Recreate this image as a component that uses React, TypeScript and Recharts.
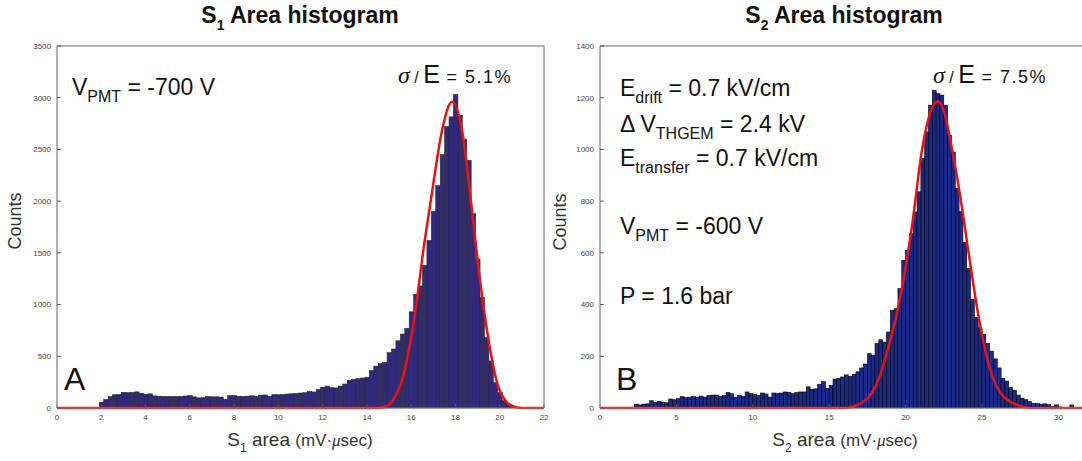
import React from "react";
import { ComposedChart, Bar, Line, XAxis, YAxis } from "recharts";

// ---------- S1 panel data ----------
const s1Centers = [
  2.0, 2.2, 2.4, 2.6, 2.8, 3.0, 3.2, 3.4, 3.6, 3.8,
  4.0, 4.2, 4.4, 4.6, 4.8, 5.0, 5.2, 5.4, 5.6, 5.8,
  6.0, 6.2, 6.4, 6.6, 6.8, 7.0, 7.2, 7.4, 7.6, 7.8,
  8.0, 8.2, 8.4, 8.6, 8.8, 9.0, 9.2, 9.4, 9.6, 9.8,
  10.0, 10.2, 10.4, 10.6, 10.8, 11.0, 11.2, 11.4, 11.6, 11.8,
  12.0, 12.2, 12.4, 12.6, 12.8, 13.0, 13.2, 13.4, 13.6, 13.8,
  14.0, 14.2, 14.4, 14.6, 14.8, 15.0, 15.2, 15.4, 15.6, 15.8,
  16.0, 16.2, 16.4, 16.6, 16.8, 17.0, 17.2, 17.4, 17.6, 17.8,
  18.0, 18.2, 18.4, 18.6, 18.8, 19.0, 19.2, 19.4, 19.6, 19.8,
  20.0, 20.2, 20.4, 20.6,
];
const s1Counts = [
  55, 82, 110, 128, 130, 152, 148, 150, 156, 143,
  133, 137, 117, 114, 112, 112, 110, 110, 112, 116,
  121, 108, 98, 100, 110, 108, 108, 106, 84, 120,
  120, 114, 112, 114, 118, 112, 124, 126, 114, 130,
  128, 130, 135, 138, 140, 145, 148, 160, 155, 178,
  200, 212, 196, 194, 212, 232, 268, 278, 284, 290,
  298, 362, 405, 430, 440, 535, 570, 650, 715, 770,
  930, 1100, 1180, 1380, 1620, 1900, 2150, 2450, 2720, 2815,
  3030, 2830, 2600, 2395, 1880, 1440, 1070, 680, 455, 245,
  150, 70, 35, 12,
];
const s1FitX = [0, 14.5, 14.9, 15.2, 15.6, 16.1, 16.6, 17.0, 17.4, 17.85, 18.3, 18.7, 19.1, 19.5, 19.9, 20.3, 20.7, 21.0, 22];
const s1FitY = [0, 0, 20, 85, 280, 810, 1600, 2170, 2690, 2960, 2680, 2000, 1250, 650, 230, 60, 10, 0, 0];
const s1XTicks = [0, 2, 4, 6, 8, 10, 12, 14, 16, 18, 20, 22];
const s1YTicks = [0, 500, 1000, 1500, 2000, 2500, 3000, 3500];

// ---------- S2 panel data ----------
const s2Centers = [
  2.375, 2.625, 2.875, 3.125, 3.375, 3.625, 3.875, 4.125,
  4.375, 4.625, 4.875, 5.125, 5.375, 5.625, 5.875, 6.125,
  6.375, 6.625, 6.875, 7.125, 7.375, 7.625, 7.875, 8.125,
  8.375, 8.625, 8.875, 9.125, 9.375, 9.625, 9.875, 10.125,
  10.375, 10.625, 10.875, 11.125, 11.375, 11.625, 11.875, 12.125,
  12.375, 12.625, 12.875, 13.125, 13.375, 13.625, 13.875, 14.125,
  14.375, 14.625, 14.875, 15.125, 15.375, 15.625, 15.875, 16.125,
  16.375, 16.625, 16.875, 17.125, 17.375, 17.625, 17.875, 18.125,
  18.375, 18.625, 18.875, 19.125, 19.375, 19.625, 19.875, 20.125,
  20.375, 20.625, 20.875, 21.125, 21.375, 21.625, 21.875, 22.125,
  22.375, 22.625, 22.875, 23.125, 23.375, 23.625, 23.875, 24.125,
  24.375, 24.625, 24.875, 25.125, 25.375, 25.625, 25.875, 26.125,
  26.375, 26.625, 26.875, 27.125, 27.375, 27.625, 27.875, 28.125,
  28.375, 28.625, 28.875, 29.125, 29.375, 29.625, 29.875, 30.125,
  30.875,
];
const s2Counts = [
  15, 12, 15, 16, 28, 22, 26, 22,
  20, 35, 32, 36, 44, 40, 42, 44,
  42, 46, 42, 48, 50, 50, 44, 48,
  60, 55, 42, 48, 45, 62, 56, 52,
  48, 58, 54, 42, 58, 56, 58, 62,
  60, 56, 60, 62, 62, 82, 72, 74,
  92, 102, 76, 88, 112, 115, 120, 128,
  122, 130, 140, 155, 170, 210, 204, 249,
  264, 255, 294, 378, 384, 462, 571, 610,
  674, 758, 836, 965, 1068, 1171, 1229, 1216,
  1210, 1171, 1055, 990, 850, 760, 640, 540,
  420, 350, 310, 285, 250, 220, 190, 155,
  115, 104, 80, 68, 50, 38, 32, 25,
  18, 17, 15, 16, 13, 6, 12, 4,
  12,
];
const s2FitX = [0, 16.0, 16.5, 17.03, 18.01, 19.0, 19.65, 20.41, 21.07, 21.6, 22.1, 22.55, 22.93, 23.58, 24.13, 24.78, 25.55, 26.42, 27.73, 28.2, 32];
const s2FitY = [0, 0, 5, 17, 81, 262, 429, 700, 997, 1140, 1186, 1140, 1035, 816, 597, 352, 146, 43, 4, 0, 0];
const s2XTicks = [0, 5, 10, 15, 20, 25, 30];
const s2YTicks = [0, 200, 400, 600, 800, 1000, 1200, 1400];

const s1Rows = s1Centers.map((x, i) => ({ x, count: s1Counts[i] }));
const s1Fit = s1FitX.map((x, i) => ({ x, y: s1FitY[i] }));
const s2Rows = s2Centers.map((x, i) => ({ x, count: s2Counts[i] }));
const s2Fit = s2FitX.map((x, i) => ({ x, y: s2FitY[i] }));

const SANS = "'Liberation Sans', Arial, sans-serif";
const SERIF = "'Liberation Serif', 'Times New Roman', serif";

type PanelProps = {
  rows: { x: number; count: number }[];
  fit: { x: number; y: number }[];
  xMax: number;
  xTicks: number[];
  yMax: number;
  yTicks: number[];
  width: number;
  rightMargin: number;
  binWidth: number;
  fill: string;
  stroke: string;
};

function Panel(p: PanelProps) {
  const plotW = p.width - 57 - 1 - p.rightMargin;
  const barW = (p.binWidth * plotW) / p.xMax;
  const tickStyle = { fontSize: 8, fill: "#444", fontFamily: SANS };
  const shape = (props: any) => {
    const { x, y, width, height } = props;
    if (height == null || !isFinite(height) || height <= 0) return <g />;
    const cx = x + width / 2;
    return (
      <rect
        x={cx - barW / 2}
        y={y}
        width={barW}
        height={height}
        fill={p.fill}
        stroke={p.stroke}
        strokeWidth={0.6}
      />
    );
  };
  return (
    <ComposedChart
      width={p.width}
      height={461}
      data={p.rows}
      margin={{ top: 45, right: p.rightMargin, bottom: 0, left: 0 }}
    >
      <XAxis
        xAxisId="b"
        dataKey="x"
        type="number"
        domain={[0, p.xMax]}
        ticks={p.xTicks}
        interval={0}
        orientation="bottom"
        height={53}
        tickSize={-4}
        tickMargin={10}
        tick={tickStyle}
        axisLine={{ stroke: "#888" }}
        tickLine={{ stroke: "#555" }}
      />
      <XAxis
        xAxisId="t"
        dataKey="x"
        type="number"
        domain={[0, p.xMax]}
        ticks={p.xTicks}
        interval={0}
        orientation="top"
        height={1}
        tickSize={-4}
        tick={false}
        axisLine={{ stroke: "#666" }}
        tickLine={{ stroke: "#555" }}
      />
      <YAxis
        yAxisId="l"
        type="number"
        domain={[0, p.yMax]}
        ticks={p.yTicks}
        interval={0}
        width={57}
        tickSize={-4}
        tickMargin={10}
        tick={tickStyle}
        axisLine={{ stroke: "#999", strokeWidth: 1.5 }}
        tickLine={{ stroke: "#555" }}
      />
      <YAxis
        yAxisId="r"
        orientation="right"
        type="number"
        domain={[0, p.yMax]}
        ticks={p.yTicks}
        interval={0}
        width={1}
        tickSize={-4}
        tick={false}
        axisLine={{ stroke: "#666" }}
        tickLine={{ stroke: "#555" }}
      />
      <Bar
        xAxisId="b"
        yAxisId="l"
        dataKey="count"
        fill={p.fill}
        shape={shape}
        isAnimationActive={false}
      />
      <Line
        xAxisId="t"
        yAxisId="r"
        data={p.fit}
        dataKey="y"
        type="monotone"
        stroke="#f01010"
        strokeWidth={2.5}
        dot={false}
        isAnimationActive={false}
      />
    </ComposedChart>
  );
}

const Sub = ({ children, size = 16, drop = 7 }: { children: React.ReactNode; size?: number; drop?: number }) => (
  <span style={{ fontSize: size, position: "relative", top: drop }}>{children}</span>
);

const abs = (left: number, top: number, extra: React.CSSProperties = {}): React.CSSProperties => ({
  position: "absolute",
  left,
  top,
  whiteSpace: "nowrap",
  lineHeight: 1,
  fontFamily: SANS,
  color: "#111",
  ...extra,
});

function SigmaE({ left, top, value }: { left: number; top: number; value: string }) {
  return (
    <div style={abs(left, top)}>
      <span style={{ fontFamily: SERIF, fontStyle: "italic", fontSize: 24 }}>σ</span>
      <span style={{ fontSize: 16 }}>&nbsp;/&nbsp;</span>
      <span style={{ fontSize: 25 }}>E</span>
      <span style={{ fontSize: 18, letterSpacing: 1.5 }}>&nbsp;=&nbsp;{value}</span>
    </div>
  );
}

export default function App() {
  return (
    <div
      style={{
        position: "fixed",
        left: 0,
        top: 0,
        width: 1082,
        height: 461,
        overflow: "hidden",
        background: "#fff",
        fontFamily: SANS,
      }}
    >
      <div style={{ position: "absolute", left: 0, top: 0 }}>
        <Panel
          rows={s1Rows}
          fit={s1Fit}
          xMax={22}
          xTicks={s1XTicks}
          yMax={3500}
          yTicks={s1YTicks}
          width={560}
          rightMargin={15}
          binWidth={0.2}
          fill="#30297c"
          stroke="#2a2a2a"
        />
      </div>
      <div style={{ position: "absolute", left: 543, top: 0 }}>
        <Panel
          rows={s2Rows}
          fit={s2Fit}
          xMax={32}
          xTicks={s2XTicks}
          yMax={1400}
          yTicks={s2YTicks}
          width={551}
          rightMargin={4}
          binWidth={0.25}
          fill="#1a2a8c"
          stroke="#000"
        />
      </div>

      {/* Titles */}
      <div style={abs(300, 4, { transform: "translateX(-50%)", fontWeight: "bold", fontSize: 23 })}>
        S<Sub size={14} drop={7}>1</Sub> Area histogram
      </div>
      <div style={abs(844, 4, { transform: "translateX(-50%)", fontWeight: "bold", fontSize: 23 })}>
        S<Sub size={14} drop={7}>2</Sub> Area histogram
      </div>

      {/* Y labels */}
      <div style={abs(15, 221, { transform: "translate(-50%,-50%) rotate(-90deg)", fontSize: 18, color: "#333" })}>Counts</div>
      <div style={abs(560, 222, { transform: "translate(-50%,-50%) rotate(-90deg)", fontSize: 18, color: "#333" })}>Counts</div>

      {/* X labels */}
      <div style={abs(300, 430, { transform: "translateX(-50%)", fontSize: 19, color: "#333" })}>
        S<Sub size={12} drop={6}>1</Sub> area <span style={{ fontSize: 17 }}>(mV·<i style={{ fontFamily: SERIF }}>μ</i>sec)</span>
      </div>
      <div style={abs(845, 430, { transform: "translateX(-50%)", fontSize: 19, color: "#333" })}>
        S<Sub size={12} drop={6}>2</Sub> area <span style={{ fontSize: 17 }}>(mV·<i style={{ fontFamily: SERIF }}>μ</i>sec)</span>
      </div>

      {/* Left annotations */}
      <div style={abs(72, 76, { fontSize: 23 })}>
        V<Sub>PMT</Sub> = -700 V
      </div>
      <SigmaE left={398} top={62} value="5.1%" />
      <div style={abs(64, 363, { fontSize: 32 })}>A</div>

      {/* Right annotations */}
      <div style={abs(620, 77, { fontSize: 23 })}>
        E<Sub>drift</Sub> = 0.7 kV/cm
      </div>
      <div style={abs(620, 113, { fontSize: 23 })}>
        Δ V<Sub>THGEM</Sub> = 2.4 kV
      </div>
      <div style={abs(620, 147, { fontSize: 23 })}>
        E<Sub>transfer</Sub> = 0.7 kV/cm
      </div>
      <div style={abs(620, 215, { fontSize: 23 })}>
        V<Sub>PMT</Sub> = -600 V
      </div>
      <div style={abs(620, 285, { fontSize: 23 })}>P = 1.6 bar</div>
      <SigmaE left={933} top={62} value="7.5%" />
      <div style={abs(616, 363, { fontSize: 32 })}>B</div>
    </div>
  );
}
